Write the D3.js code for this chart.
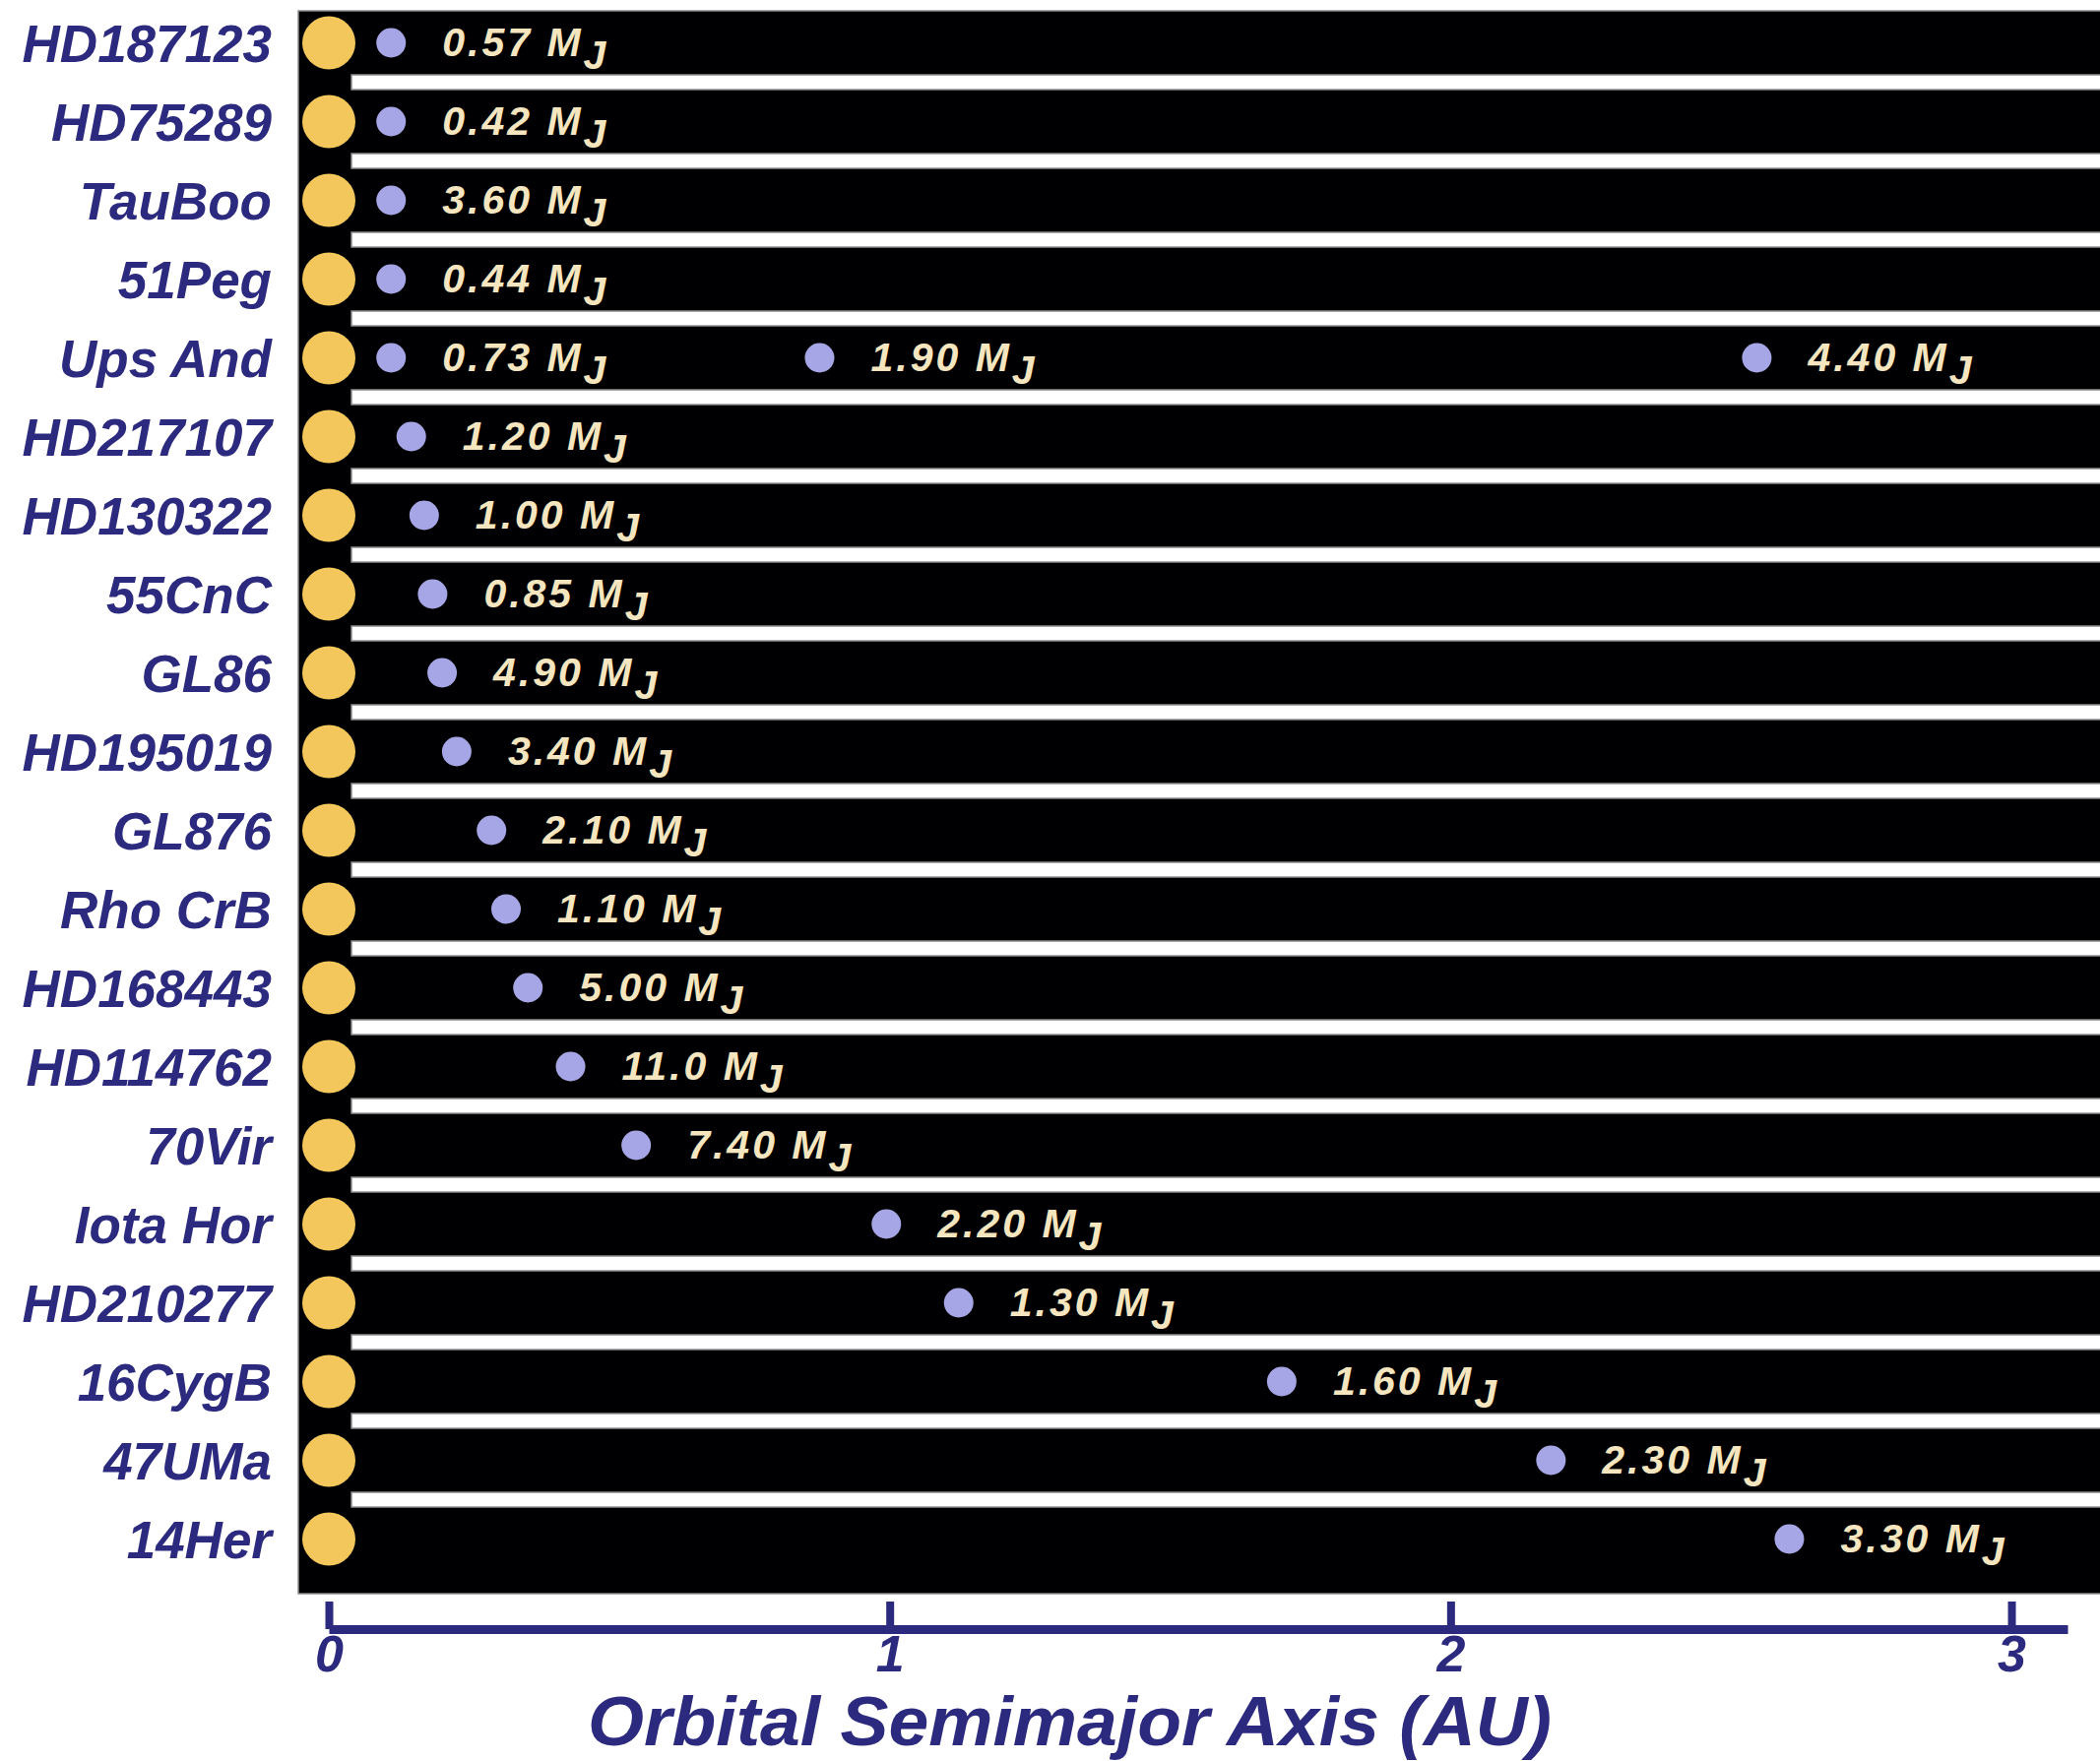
<!DOCTYPE html>
<html>
<head>
<meta charset="utf-8">
<script src="https://cdn.jsdelivr.net/npm/d3@7"></script>
<style>
  html, body { margin: 0; padding: 0; background: #ffffff; }
  svg { display: block; }
</style>
</head>
<body>
<div id="chart"></div>
<script>
// ---- Data ----
const stars = ["HD187123","HD75289","TauBoo","51Peg","Ups And","HD217107","HD130322","55CnC","GL86",
  "HD195019","GL876","Rho CrB","HD168443","HD114762","70Vir","Iota Hor","HD210277","16CygB","47UMa","14Her"];

const planetHost = ["HD187123","HD75289","TauBoo","51Peg","Ups And","Ups And","Ups And","HD217107","HD130322",
  "55CnC","GL86","HD195019","GL876","Rho CrB","HD168443","HD114762","70Vir","Iota Hor","HD210277","16CygB","47UMa","14Her"];
const planetAU = [0.111,0.111,0.111,0.111,0.111,0.875,2.546,0.147,0.170,
  0.185,0.202,0.228,0.290,0.316,0.355,0.431,0.548,0.994,1.123,1.699,2.179,2.604];
const planetMass = [0.57,0.42,3.60,0.44,0.73,1.90,4.40,1.20,1.00,
  0.85,4.90,3.40,2.10,1.10,5.00,11.0,7.40,2.20,1.30,1.60,2.30,3.30];

const axisTicks = [0,1,2,3];
const axisTitle = "Orbital Semimajor Axis (AU)";

// ---- Layout ----
const W = 2133, H = 1789;
const navy = "#2c2a7e", starColor = "#f4c75c", planetColor = "#a6a6e6", massColor = "#f6e6bf";
const font = "'Liberation Sans', Arial, Helvetica, sans-serif";

const svg = d3.select("#chart").append("svg").attr("width", W).attr("height", H);

const x = d3.scaleLinear().domain([0, 3.1]).range([334, 2100]);
const y = d3.scaleBand().domain(stars).range([11, 1611]).paddingInner(0);
const stripeH = 15;
const rowH = y.bandwidth() - stripeH;
const cy = d => y(d) + rowH / 2;

const panelLeft = 303, panelBottom = 1619, stripeLeft = 357;

// black panel
svg.append("rect")
  .attr("x", panelLeft).attr("y", y.range()[0])
  .attr("width", W - panelLeft + 2).attr("height", panelBottom - y.range()[0])
  .attr("fill", "#000003").attr("stroke", "#8a8a8a").attr("stroke-width", 1.5);

// white separating stripes
svg.append("g").selectAll("rect")
  .data(stars.slice(0, -1))
  .join("rect")
  .attr("x", stripeLeft).attr("y", d => y(d) + rowH)
  .attr("width", W - stripeLeft + 2).attr("height", stripeH)
  .attr("fill", "#ffffff").attr("stroke", "#8c8c8c").attr("stroke-width", 1.5);

// star names
svg.append("g").selectAll("text")
  .data(stars)
  .join("text")
  .attr("x", 276).attr("y", d => cy(d) + 19)
  .attr("text-anchor", "end")
  .attr("font-family", font).attr("font-weight", "bold").attr("font-style", "italic")
  .attr("font-size", 53).attr("fill", navy)
  .text(d => d);

// stars
svg.append("g").selectAll("circle")
  .data(stars)
  .join("circle")
  .attr("cx", x(0)).attr("cy", d => cy(d)).attr("r", 27)
  .attr("fill", starColor);

// planets
const planets = planetHost.map((h, i) => ({ host: h, au: planetAU[i], mass: planetMass[i] }));
svg.append("g").selectAll("circle")
  .data(planets)
  .join("circle")
  .attr("cx", d => x(d.au)).attr("cy", d => cy(d.host)).attr("r", 15)
  .attr("fill", planetColor);

// mass labels
const fmt = m => m >= 10 ? m.toFixed(1) : m.toFixed(2);
const ml = svg.append("g").selectAll("text")
  .data(planets)
  .join("text")
  .attr("x", d => x(d.au) + 52).attr("y", d => cy(d.host) + 13)
  .attr("font-family", font).attr("font-weight", "bold").attr("font-style", "italic")
  .attr("font-size", 41).attr("letter-spacing", 3).attr("fill", massColor);
ml.append("tspan").text(d => fmt(d.mass) + " M");
ml.append("tspan").attr("dy", 13).text("J");

// x axis
const axis = d3.axisBottom(x).tickValues(axisTicks).tickFormat(d3.format("d"))
  .tickSizeInner(-28).tickSizeOuter(0).tickPadding(6);
const ga = svg.append("g").attr("transform", "translate(0,1655)").call(axis);
ga.attr("font-family", font).attr("font-size", 52).attr("color", navy);
ga.select(".domain").attr("stroke-width", 9).attr("stroke", navy);
ga.selectAll(".tick line").attr("stroke-width", 8).attr("stroke", navy);
ga.selectAll(".tick text").attr("font-weight", "bold").attr("font-style", "italic").attr("fill", navy);

// axis title
svg.append("text")
  .attr("x", 597).attr("y", 1773)
  .attr("textLength", 979).attr("lengthAdjust", "spacingAndGlyphs")
  .attr("font-family", font).attr("font-weight", "bold").attr("font-style", "italic")
  .attr("font-size", 70).attr("fill", navy)
  .text(axisTitle);
</script>
</body>
</html>
